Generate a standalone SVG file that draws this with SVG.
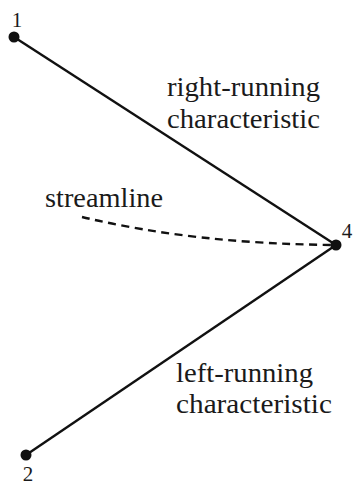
<svg xmlns="http://www.w3.org/2000/svg" width="354" height="486" viewBox="0 0 354 486">
<style>
.ln{stroke:#111;stroke-width:2.4;fill:none}
.ds{stroke:#111;stroke-width:2.4;fill:none;stroke-dasharray:8 5.5}
.pt{fill:#111}
text{font-family:"Liberation Serif","DejaVu Serif","Times New Roman",serif;fill:#1a1a1a}
.lb{font-size:27px}
.nm{font-size:21px}
</style>
<rect width="354" height="486" fill="#fff"/>
<g id="connectors">
<line class="ln" x1="14" y1="37" x2="336" y2="245"/>
<line class="ln" x1="26" y1="455" x2="336" y2="245"/>
<path class="ds" d="M82,217 Q195,244 336,245"/>
</g>
<g id="node1"><circle class="pt" cx="14" cy="37" r="5.5"/><text class="nm" x="17" y="27" text-anchor="middle">1</text></g>
<g id="node4"><circle class="pt" cx="336" cy="245" r="5.5"/><text class="nm" x="347" y="238" text-anchor="middle">4</text></g>
<g id="node2"><circle class="pt" cx="26" cy="455" r="5.5"/><text class="nm" x="28" y="481" text-anchor="middle">2</text></g>
<g id="labels">
<text class="lb" x="167" y="96" textLength="153" lengthAdjust="spacingAndGlyphs">right-running</text>
<text class="lb" x="167" y="128" textLength="153" lengthAdjust="spacingAndGlyphs">characteristic</text>
<text class="lb" x="45" y="207" textLength="118" lengthAdjust="spacingAndGlyphs">streamline</text>
<text class="lb" x="176" y="382" textLength="137" lengthAdjust="spacingAndGlyphs">left-running</text>
<text class="lb" x="176" y="413" textLength="156" lengthAdjust="spacingAndGlyphs">characteristic</text>
</g>
</svg>
